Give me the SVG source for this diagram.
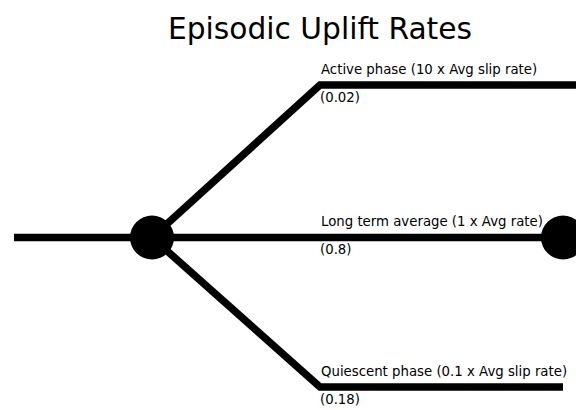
<svg xmlns="http://www.w3.org/2000/svg" width="576" height="410" viewBox="0 0 576 410">
<style>
.edge{fill:none;stroke:#000;stroke-width:7.5;stroke-linejoin:miter;stroke-linecap:butt}
.node{fill:#000}
.lbl{font-family:"DejaVu Sans",Verdana,sans-serif;font-size:13.3px;fill:#000}
.title{font-family:"DejaVu Sans",Verdana,sans-serif;font-size:29.7px;fill:#000}
</style>
<rect width="576" height="410" fill="#fff"/>
<text class="title" x="320" y="39" text-anchor="middle">Episodic Uplift Rates</text>
<g id="connectors">
<path class="edge" d="M14,237.5 H563"/>
<path class="edge" d="M152,237.5 L320,85 H576"/>
<path class="edge" d="M152,237.5 L320,387 H563"/>
</g>
<g id="node-root"><circle class="node" cx="152" cy="237.5" r="22"/></g>
<g id="node-end"><circle class="node" cx="563" cy="237.5" r="22"/></g>
<g id="label-active">
<text class="lbl" x="321" y="74">Active phase (10 x Avg slip rate)</text>
<text class="lbl" x="320" y="102">(0.02)</text>
</g>
<g id="label-average">
<text class="lbl" x="321" y="226">Long term average (1 x Avg rate)</text>
<text class="lbl" x="320" y="254">(0.8)</text>
</g>
<g id="label-quiescent">
<text class="lbl" x="321" y="376">Quiescent phase (0.1 x Avg slip rate)</text>
<text class="lbl" x="320" y="404">(0.18)</text>
</g>
</svg>
